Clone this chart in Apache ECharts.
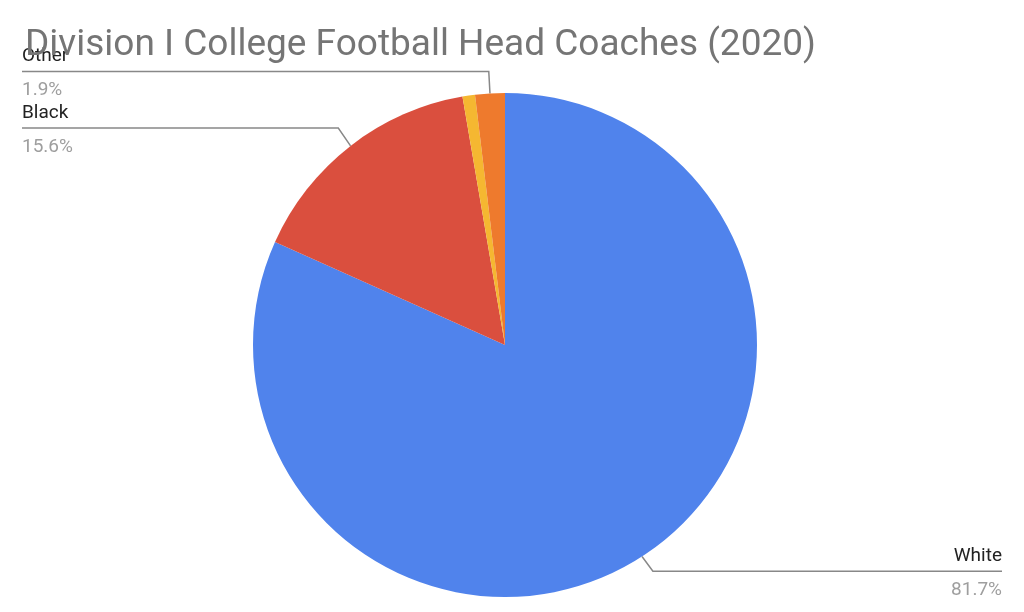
<!DOCTYPE html>
<html><head><meta charset="utf-8">
<script src="https://cdn.jsdelivr.net/npm/echarts@6/dist/echarts.min.js"></script>
<style>html,body{margin:0;padding:0;background:#fff}#c{width:1024px;height:612px}</style>
</head><body><div id="c"></div>
<script>
const categories = ['White', 'Black', 'Hispanic', 'Other'];
const values = [81.7, 15.6, 0.8, 1.9];
const colors = ['#5083ec', '#da4f3e', '#f5b731', '#ee7a2d'];
const showLabel = [true, true, false, true];

const chart = echarts.init(document.getElementById('c'));
chart.setOption({
  animation: false,
  title: {
    text: 'Division I College Football Head Coaches (2020)',
    left: 20, top: 22,
    textStyle: { fontFamily: 'Roboto', fontSize: 37, fontWeight: 'normal', color: '#757575' }
  },
  series: [{
    type: 'pie',
    center: [505, 345],
    radius: 252,
    startAngle: 90,
    clockwise: true,
    data: categories.map((n, i) => ({
      name: n, value: values[i],
      itemStyle: { color: colors[i] },
      label: { show: showLabel[i] },
      labelLine: { show: showLabel[i] }
    })),
    label: {
      alignTo: 'edge',
      edgeDistance: 22,
      formatter: p => '{n|' + p.name + '}\n{v|' + p.value.toFixed(1) + '%}',
      rich: {
        n: { fontFamily: 'Roboto', fontSize: 19, color: '#222', lineHeight: 34, padding: [0,0,4,0] },
        v: { fontFamily: 'Roboto', fontSize: 19, color: '#9e9e9e', lineHeight: 30 }
      }
    },
    labelLine: {
      length: 20, length2: 0,
      lineStyle: { color: '#888', width: 1.5 }
    },
    labelLayout: function (p) {
      const pts = p.labelLinePoints;
      if (!pts) return;
      const r = p.labelRect;
      const y = r.y + r.height / 2 - 2;
      const leftSide = pts[0][0] < 505;
      pts[1] = [pts[1][0], y];
      pts[2] = leftSide ? [r.x, y] : [r.x + r.width, y];
      return { labelLinePoints: pts };
    }
  }]
});
</script></body></html>
